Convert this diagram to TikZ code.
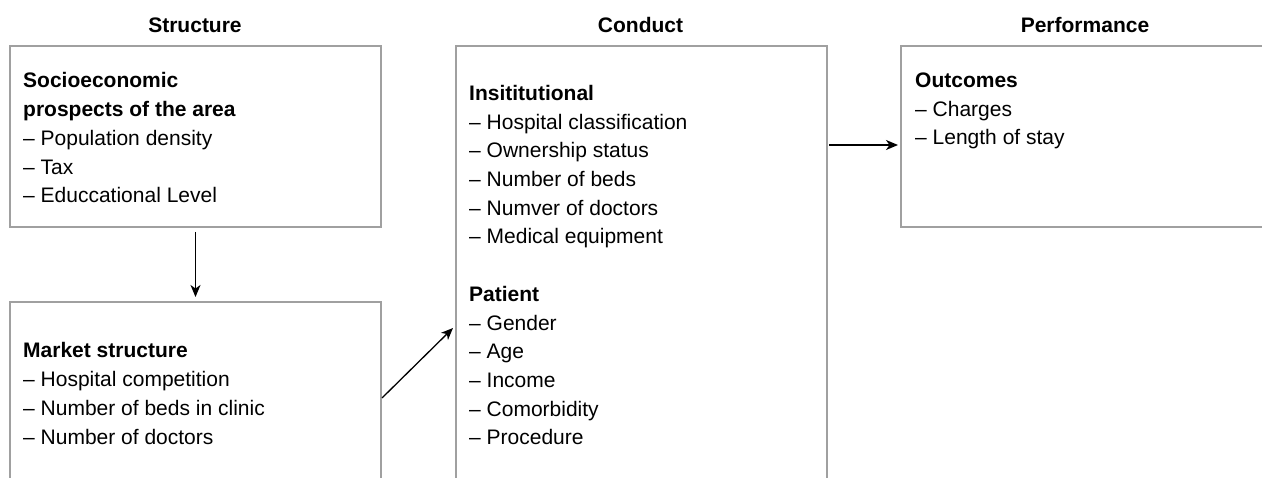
\documentclass[tikz,border=0pt]{standalone}
\usepackage{fontspec}
\setmainfont{Liberation Sans}
\usetikzlibrary{arrows.meta,calc}
\definecolor{boxgray}{RGB}{160,160,160}
\tikzset{
  box/.style={draw=boxgray, line width=2.8pt, rectangle, inner sep=0pt, outer sep=0pt, anchor=north west},
  body/.style={anchor=north west, inner sep=0pt, align=left, font=\fontsize{21}{28.7}\selectfont},
  title/.style={anchor=base, inner sep=0pt, font=\fontsize{21}{25}\selectfont\bfseries},
  arr/.style={line width=1.3pt, -{Stealth[length=12pt,width=10pt,inset=3.5pt]}}
}
\begin{document}
\begin{tikzpicture}[x=1pt,y=-1pt]
\useasboundingbox (0,0) rectangle (1262,478);
\clip (0,0) rectangle (1262,478);
% boxes
\node[box, minimum width=371pt, minimum height=181pt] (b1) at (10,46) {};
\node[box, minimum width=371pt, minimum height=192pt] (b2) at (10,302) {};
\node[box, minimum width=371pt, minimum height=564pt] (b3) at (456,46) {};
\node[box, minimum width=420pt, minimum height=181pt] (b4) at (901,46) {};
% titles
\node[title] (t1) at (195,33) {Structure};
\node[title] (t2) at (640.5,33) {Conduct};
\node[title] (t3) at (1085,33) {Performance};
% texts
\node[body] (x1) at (23,72.5) {\textbf{Socioeconomic}\\\textbf{prospects of the area}\\– Population density\\– Tax\\– Educcational Level};
\node[body] (x2) at (23,342.5) {\textbf{Market structure}\\– Hospital competition\\– Number of beds in clinic\\– Number of doctors};
\node[body] (x3) at (469,85) {\textbf{Insititutional}\\– Hospital classification\\– Ownership status\\– Number of beds\\– Numver of doctors\\– Medical equipment\\[28.7pt]\textbf{Patient}\\– Gender\\– Age\\– Income\\– Comorbidity\\– Procedure};
\node[body] (x4) at (915,72.5) {\textbf{Outcomes}\\– Charges\\– Length of stay};
% arrows
\draw[arr, shorten <=5pt, shorten >=5pt] (b1.south) -- (b2.north);
\draw[arr] ($(b2.east)+(1,0)$) -- ($(b3.west)+(-3,0)$);
\draw[arr] ($(b3.north east)+(2,99)$) -- ($(b4.north west)+(-3,99)$);
\end{tikzpicture}
\end{document}
